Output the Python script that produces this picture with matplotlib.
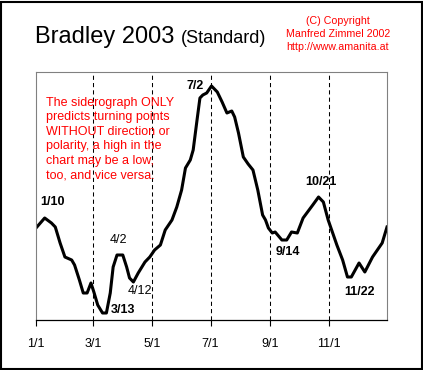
import matplotlib
matplotlib.use("Agg")
import matplotlib.pyplot as plt
from matplotlib.patches import Rectangle

plt.rcParams['font.family'] = ['Liberation Sans', 'DejaVu Sans']

# day of year (0 = Jan 1) and Bradley siderograph value (arbitrary units)
days = [0, 9, 16, 20, 25, 30, 37, 40, 45, 49, 53, 57, 60, 64, 69, 73,
        77, 80, 84, 90, 94, 97, 101, 106, 113, 118, 123, 129, 134, 141,
        146, 151, 155, 160, 163, 167, 170, 173, 177, 182, 188, 193, 198,
        203, 206, 210, 215, 220, 225, 230, 235, 238, 241, 245, 248, 255,
        260, 265, 271, 277, 287, 293, 298, 303, 312, 318, 323, 327, 335,
        341, 349, 359, 364]
values = [92, 102, 97, 93, 77, 63, 60, 55, 40, 27, 27, 37, 28, 15, 7, 7,
          27, 53, 65, 65, 53, 42, 38, 47, 58, 63, 70, 75, 90, 100,
          113, 130, 152, 160, 170, 200, 222, 225, 227, 234, 228, 218, 207,
          209, 203, 187, 163, 156, 150, 130, 105, 100, 92, 87, 88, 80,
          80, 88, 87, 102, 115, 123, 118, 100, 75, 60, 43, 43, 57,
          48, 63, 77, 93]

tick_days = [0, 59, 120, 181, 243, 304]
tick_labels = ["1/1", "3/1", "5/1", "7/1", "9/1", "11/1"]

# turning point labels: (text, day, value, bold)
turns = [("1/10", 17.6, 118, True), ("7/2", 165, 234, True),
         ("10/21", 296, 138, True), ("9/14", 261, 68, True),
         ("4/2", 85.5, 80, False), ("4/12", 108, 29, False),
         ("3/13", 90.7, 10, True), ("11/22", 335.5, 28, True)]

note = ("The siderograph ONLY\npredicts turning points\nWITHOUT direction or\n"
        "polarity, a high in the\nchart may be a low,\ntoo, and vice versa.")

W, H = 423, 370
fig = plt.figure(figsize=(W / 100, H / 100), dpi=100)
ax = fig.add_axes([36 / W, 1 - 320 / H, 351 / W, 248 / H])

ax.plot(days, values, color="black", lw=2.2, solid_joinstyle="round")

for d in tick_days[1:]:
    ax.axvline(d, color="black", lw=0.75, linestyle=(0, (4, 3)))

ax.set_xlim(0, 364)
ax.set_ylim(0, 248)
ax.set_xticks(tick_days)
ax.set_xticklabels(tick_labels, fontsize=9)
ax.set_yticks([])
ax.tick_params(axis="x", direction="out", length=4, width=0.8, pad=9)
for s in ["left", "top", "right"]:
    ax.spines[s].set_color("#808080")
    ax.spines[s].set_linewidth(0.8)
ax.spines["bottom"].set_linewidth(0.9)

for txt, d, v, b in turns:
    ax.text(d, v, txt, ha="center", va="center", fontsize=9,
            fontweight="bold" if b else "normal")

ax.text(10.4, 181, note, color="#ff0000", fontsize=9, ha="left",
        va="center", linespacing=1.28)

fig.text(35 / W, 1 - 43 / H, "Bradley 2003", fontsize=17, va="baseline")
fig.text(181 / W, 1 - 43 / H, "(Standard)", fontsize=13, va="baseline")
fig.text(338 / W, 1 - 34 / H,
         "(C) Copyright\nManfred Zimmel 2002\nhttp://www.amanita.at",
         color="#ff0000", fontsize=7.7, ha="center", va="center",
         linespacing=1.4)

fig.patches.append(Rectangle((1 / W, 1.5 / H), 420.5 / W, 367 / H,
                             transform=fig.transFigure, fill=False,
                             edgecolor="black", lw=1.5))

fig.savefig("out.png", dpi=100)
